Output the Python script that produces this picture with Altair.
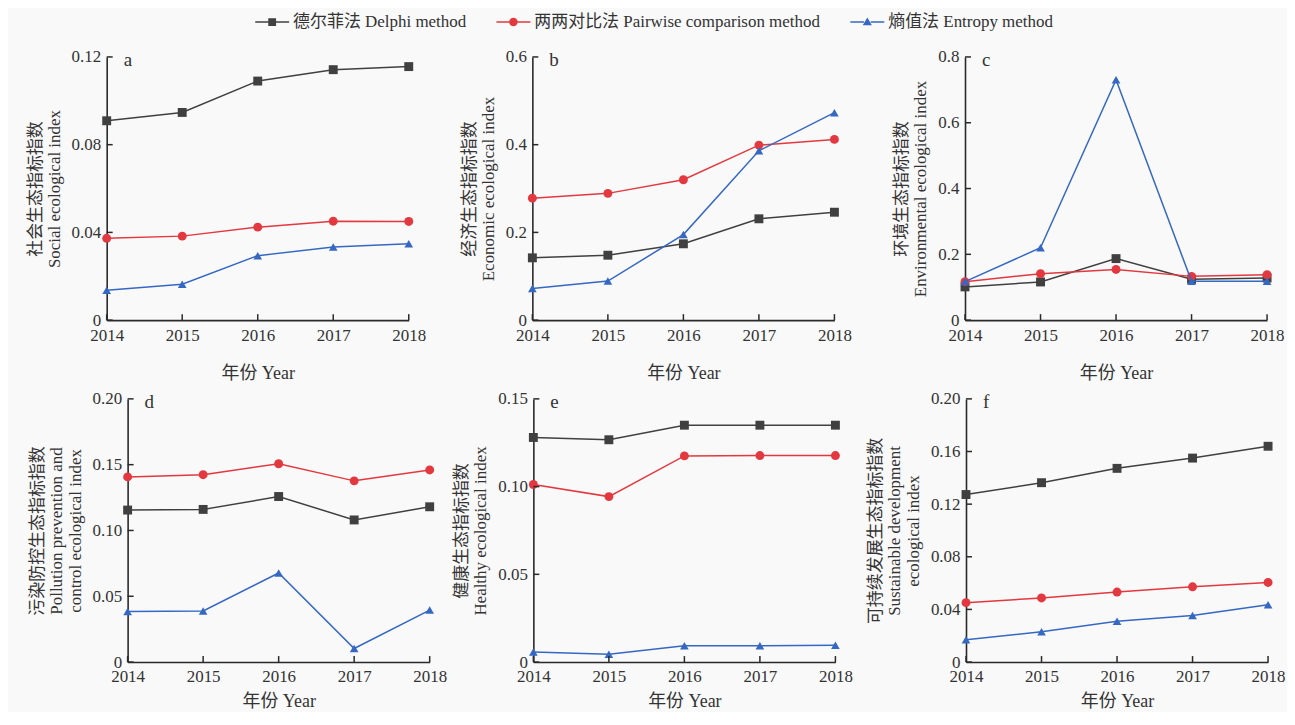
import altair as alt
import pandas as pd

years = [2014, 2015, 2016, 2017, 2018]
methods = ["德尔菲法 Delphi method", "两两对比法 Pairwise comparison method", "熵值法 Entropy method"]
colors = ["#404040", "#e3383f", "#3568c2"]
point_shapes = ["square", "circle", "triangle-up"]
point_sizes = [80, 80, 75]

# legend symbols: line + marker (filled paths)
legend_paths = [
    "M-1,-0.045H-0.2V0.045H-1ZM0.2,-0.045H1V0.045H0.2ZM-0.23,-0.23H0.23V0.23H-0.23Z",
    "M-1,-0.045H-0.2V0.045H-1ZM0.2,-0.045H1V0.045H0.2ZM-0.25,0A0.25,0.25,0,1,1,0.25,0A0.25,0.25,0,1,1,-0.25,0Z",
    "M-1,-0.045H-0.2V0.045H-1ZM0.2,-0.045H1V0.045H0.2ZM0,-0.27L0.27,0.19H-0.27Z",
]

# a Social
social_delphi = [0.0909, 0.0947, 0.1090, 0.1142, 0.1156]
social_pair = [0.0373, 0.0383, 0.0424, 0.0451, 0.0450]
social_entropy = [0.0136, 0.0164, 0.0294, 0.0333, 0.0348]
# b Economic
econ_delphi = [0.142, 0.148, 0.174, 0.231, 0.246]
econ_pair = [0.278, 0.289, 0.320, 0.399, 0.412]
econ_entropy = [0.072, 0.089, 0.195, 0.386, 0.473]
# c Environmental
env_delphi = [0.101, 0.116, 0.187, 0.124, 0.128]
env_pair = [0.117, 0.141, 0.154, 0.133, 0.138]
env_entropy = [0.117, 0.220, 0.731, 0.118, 0.118]
# d Pollution prevention and control
poll_delphi = [0.1155, 0.1160, 0.1258, 0.1080, 0.1180]
poll_pair = [0.1407, 0.1424, 0.1507, 0.1377, 0.1460]
poll_entropy = [0.0385, 0.0388, 0.0677, 0.0103, 0.0395]
# e Healthy
health_delphi = [0.1280, 0.1267, 0.1350, 0.1350, 0.1350]
health_pair = [0.1012, 0.0943, 0.1175, 0.1177, 0.1177]
health_entropy = [0.0057, 0.0044, 0.0093, 0.0093, 0.0096]
# f Sustainable development
sust_delphi = [0.1273, 0.1363, 0.1472, 0.1550, 0.1640]
sust_pair = [0.0451, 0.0487, 0.0532, 0.0572, 0.0605]
sust_entropy = [0.0169, 0.0230, 0.0310, 0.0353, 0.0436]

ticks_a = [0, 0.04, 0.08, 0.12]
ticks_b = [0, 0.2, 0.4, 0.6]
ticks_c = [0, 0.2, 0.4, 0.6, 0.8]
ticks_d = [0, 0.05, 0.10, 0.15, 0.20]
ticks_e = [0, 0.05, 0.10, 0.15]
ticks_f = [0, 0.04, 0.08, 0.12, 0.16, 0.20]

title_a = ["社会生态指标指数", "Social ecological index"]
title_b = ["经济生态指标指数", "Economic ecological index"]
title_c = ["环境生态指标指数", "Environmental ecological index"]
title_d = ["污染防控生态指标指数", "Pollution prevention and", "control ecological index"]
title_e = ["健康生态指标指数", "Healthy ecological index"]
title_f = ["可持续发展生态指标指数", "Sustainable development", "ecological index"]
x_title = "年份 Year"

FONT = "Liberation Serif, Noto Sans CJK SC, serif"
W, H = 303, 264
AX = "#2a2a2a"


def panel(letter, series, ticks, decimals, ytitle, legend=False, shift=0, xtitle_pad=22):
    rows = []
    for m, vals in zip(methods, series):
        for yr, v in zip(years, vals):
            rows.append({"year": yr, "value": v, "method": m})
    df = pd.DataFrame(rows)
    ymax = ticks[-1]
    if shift:
        xs = alt.Scale(domain=[years[0], years[-1]], nice=False, zero=False, range=[shift, W + shift])
    else:
        xs = alt.Scale(domain=[years[0], years[-1]], nice=False, zero=False)
    ys = alt.Scale(domain=[0, ymax], nice=False, zero=True)
    x = alt.X("year:Q", scale=xs, axis=alt.Axis(
        values=years, format="d", title=x_title, labelFlush=False, labelOverlap=False,
        ticks=False, labelPadding=7, titlePadding=xtitle_pad, domainColor=AX, domainWidth=1.6,
        grid=False, labelFont=FONT, labelFontSize=17, labelColor="#333",
        titleFont=FONT, titleFontSize=18, titleFontWeight="normal", titleColor="#333"))
    yaxis_kw = dict(
        values=ticks, title=ytitle, ticks=False, labelPadding=6, titlePadding=8,
        labelExpr=f"datum.value == 0 ? '0' : format(datum.value, '.{decimals}f')",
        labelFlush=False, labelOverlap=False, domainColor=AX, domainWidth=1.6, grid=False,
        labelFont=FONT, labelFontSize=17, labelColor="#333",
        titleFont=FONT, titleFontSize=17, titleFontWeight="normal", titleColor="#333",
        titleLineHeight=19)
    if shift:
        yaxis_kw["offset"] = -shift
    y = alt.Y("value:Q", scale=ys, axis=alt.Axis(**yaxis_kw))
    base = alt.Chart(df)
    layers = []
    for m, c, s, sz in zip(methods, colors, point_shapes, point_sizes):
        sub = base.transform_filter(alt.datum.method == m)
        layers.append(sub.mark_line(strokeWidth=1.5, color=c).encode(x=x, y=y))
        layers.append(sub.mark_point(shape=s, filled=True, size=sz, opacity=1, color=c).encode(x=x, y=y))
    # inward ticks
    layers.append(alt.Chart(pd.DataFrame({"value": ticks})).mark_rule(
        color=AX, strokeWidth=1.5).encode(y=y, x=alt.value(shift), x2=alt.value(shift + 6)))
    layers.append(alt.Chart(pd.DataFrame({"year": years})).mark_rule(
        color=AX, strokeWidth=1.5).encode(x=x, y=alt.value(H), y2=alt.value(H - 6)))
    layers.append(alt.Chart(pd.DataFrame({"t": [letter]})).mark_text(
        font=FONT, fontSize=19, color="#333", align="left", baseline="middle").encode(
        text="t:N", x=alt.value(17 + shift), y=alt.value(3)))
    if legend:
        leg = alt.Legend(title=None, orient="none", direction="horizontal",
                         legendX=149, legendY=-52, symbolSize=1156, labelFont=FONT,
                         labelFontSize=17, labelColor="#333", columnPadding=30,
                         labelOffset=4, symbolStrokeWidth=0, labelLimit=500)
        layers.append(base.transform_filter("false").mark_point(filled=True, opacity=1).encode(
            x=x, y=y,
            color=alt.Color("method:N", scale=alt.Scale(domain=methods, range=colors), legend=leg),
            shape=alt.Shape("method:N", scale=alt.Scale(domain=methods, range=legend_paths), legend=leg)))
    return alt.layer(*layers).properties(width=W + shift, height=H)


pa = panel("a", [social_delphi, social_pair, social_entropy], ticks_a, 2, title_a, legend=True)
pb = panel("b", [econ_delphi, econ_pair, econ_entropy], ticks_b, 1, title_b)
pc = panel("c", [env_delphi, env_pair, env_entropy], ticks_c, 1, title_c)
pd_ = panel("d", [poll_delphi, poll_pair, poll_entropy], ticks_d, 2, title_d, shift=21, xtitle_pad=8)
pe = panel("e", [health_delphi, health_pair, health_entropy], ticks_e, 2, title_e, xtitle_pad=8)
pf = panel("f", [sust_delphi, sust_pair, sust_entropy], ticks_f, 2, title_f, xtitle_pad=8)

row1 = alt.hconcat(alt.hconcat(pa, pb, spacing=34), pc, spacing=41)
row2 = alt.hconcat(alt.hconcat(pd_, pe, spacing=6), pf, spacing=14)
chart = alt.concat(row1, row2, columns=1, align="none", spacing=7).properties(
    padding={"left": 18, "top": -4, "right": 2, "bottom": 0}
).configure(background="#f9f9f9").configure_view(stroke=None)

chart.save("out.html", embed_options={"renderer": "svg", "actions": False})
